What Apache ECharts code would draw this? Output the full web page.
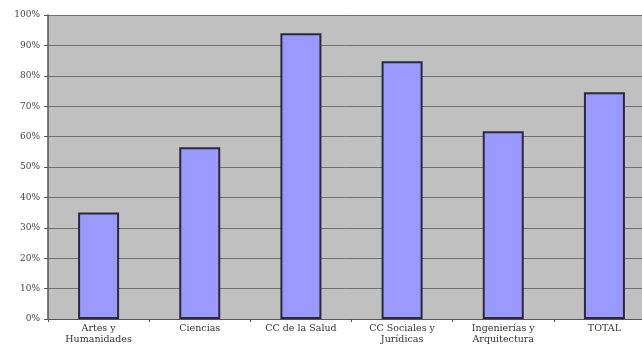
<!DOCTYPE html>
<html><head><meta charset="utf-8">
<script src="https://cdn.jsdelivr.net/npm/echarts@6/dist/echarts.min.js"></script>
<style>html,body{margin:0;padding:0;background:#fff;}#c{width:642px;height:345px;}</style>
</head><body><div id="c"></div>
<script>
const categories = ['Artes y\nHumanidades', 'Ciencias', 'CC de la Salud', 'CC Sociales y\nJurídicas', 'Ingenierías y\nArquitectura', 'TOTAL'];
const values = [0.35, 0.565, 0.94, 0.848, 0.618, 0.746];
const yTicks = [0, 0.1, 0.2, 0.3, 0.4, 0.5, 0.6, 0.7, 0.8, 0.9, 1];

const chart = echarts.init(document.getElementById('c'), null, {renderer: 'canvas'});
chart.setOption({
  animation: false,
  backgroundColor: '#ffffff',
  grid: {left: 48, top: 15, bottom: 26, width: 607, outerBoundsMode: 'none', containLabel: false,
    show: true, backgroundColor: '#c0c0c0', borderWidth: 0},
  xAxis: {
    type: 'category', data: categories,
    axisLine: {show: true, lineStyle: {color: '#555', width: 1}},
    axisTick: {show: true, alignWithLabel: false, length: 3, lineStyle: {color: '#555'}},
    axisLabel: {fontFamily: 'DejaVu Serif', fontSize: 9.5, color: '#333', lineHeight: 11, margin: 4}
  },
  yAxis: {
    type: 'value', min: 0, max: 1, interval: 0.1,
    axisLine: {show: true, lineStyle: {color: '#555', width: 1.5}},
    axisTick: {show: true, length: 4, lineStyle: {color: '#555'}},
    axisLabel: {fontFamily: 'DejaVu Serif', fontSize: 9, color: '#444', margin: 8,
      formatter: v => Math.round(v * 100) + '%'},
    splitLine: {show: true, lineStyle: {color: '#707070', width: 1}}
  },
  series: [{
    type: 'bar', data: values, barWidth: 41,
    itemStyle: {color: '#9999ff', borderColor: '#2a2a3a', borderWidth: 2}
  }]
});
</script></body></html>
